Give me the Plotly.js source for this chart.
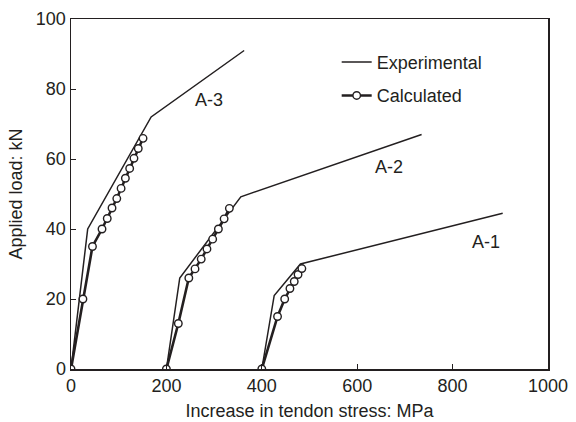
<!DOCTYPE html>
<html>
<head>
<meta charset="utf-8">
<script src="https://cdn.plot.ly/plotly-3.0.1.min.js"></script>
<style>html,body{margin:0;padding:0;background:#fff}#chart{width:576px;height:422px}</style>
</head>
<body>
<div id="chart"></div>
<script>
// A-1
const a1ExpX = [400, 426, 481, 905];
const a1ExpY = [0, 21, 30, 44.5];
const a1CalX = [400, 433, 448, 459, 468, 476, 484];
const a1CalY = [0, 15, 20, 23, 25, 27, 28.7];
// A-2
const a2ExpX = [200, 228, 356, 735];
const a2ExpY = [0, 26, 49.2, 67];
const a2CalX = [200, 225, 247, 260, 273, 285, 297, 309, 321, 332];
const a2CalY = [0, 13, 26, 28.6, 31.4, 34.3, 37.1, 40, 42.9, 45.9];
// A-3
const a3ExpX = [0, 35, 168, 363];
const a3ExpY = [0, 40, 72, 91];
const a3CalX = [0, 25, 45, 65, 76, 86, 96, 105, 114, 123, 132, 141, 151];
const a3CalY = [0, 20, 35, 40, 43, 46, 48.7, 51.6, 54.5, 57.3, 60.2, 63, 65.9];
// labels
const specimenNames = ['A-1', 'A-2', 'A-3'];
const labelX = [869, 666, 289];
const labelY = [36.2, 57.6, 77];
const xTicks = [0, 200, 400, 600, 800, 1000];
const yTicks = [0, 20, 40, 60, 80, 100];

const ink = '#231f20';
const fontFam = '"Liberation Sans", Arial, Helvetica, sans-serif';
const fs = 18;

function expTrace(x, y, show) {
  return {x: x, y: y, type: 'scatter', mode: 'lines', name: 'Experimental',
    legendgroup: 'exp', showlegend: show,
    line: {color: ink, width: 1.5}};
}
function calTrace(x, y, show) {
  return {x: x, y: y, type: 'scatter', mode: 'lines+markers', name: 'Calculated',
    legendgroup: 'cal', showlegend: show,
    line: {color: ink, width: 2.6},
    marker: {symbol: 'circle', size: 7.5, color: '#ffffff', line: {color: ink, width: 1.4}}};
}

const data = [
  expTrace(a3ExpX, a3ExpY, true),
  expTrace(a2ExpX, a2ExpY, false),
  expTrace(a1ExpX, a1ExpY, false),
  calTrace(a3CalX, a3CalY, true),
  calTrace(a2CalX, a2CalY, false),
  calTrace(a1CalX, a1CalY, false)
];

const annotations = specimenNames.map((t, i) => ({
  x: labelX[i], y: labelY[i], xref: 'x', yref: 'y', text: t, showarrow: false,
  font: {family: fontFam, size: fs, color: ink}
}));

const layout = {
  width: 576, height: 422,
  margin: {l: 71, r: 28, t: 19, b: 53},
  paper_bgcolor: '#fff', plot_bgcolor: '#fff',
  font: {family: fontFam, size: fs, color: ink},
  showlegend: true,
  legend: {x: 0.557, y: 0.929, xanchor: 'left', yanchor: 'top',
    bgcolor: 'rgba(0,0,0,0)', borderwidth: 0, traceorder: 'grouped', tracegroupgap: 7,
    font: {family: fontFam, size: fs, color: ink}},
  xaxis: {range: [0, 1000], tickvals: xTicks, ticktext: xTicks.map(String),
    ticks: 'inside', ticklen: 5, tickwidth: 1, tickcolor: ink,
    showline: true, linecolor: ink, linewidth: 1.5, mirror: true,
    showgrid: false, zeroline: false,
    tickfont: {family: fontFam, size: fs, color: ink},
    title: {text: 'Increase in tendon stress: MPa', font: {family: fontFam, size: fs, color: ink}, standoff: 9}},
  yaxis: {range: [0, 100], tickvals: yTicks, ticktext: yTicks.map(String),
    ticks: 'inside', ticklen: 5, tickwidth: 1, tickcolor: ink,
    showline: true, linecolor: ink, linewidth: 1.5, mirror: true,
    showgrid: false, zeroline: false,
    tickfont: {family: fontFam, size: fs, color: ink},
    title: {text: 'Applied load: kN', font: {family: fontFam, size: fs, color: ink}, standoff: 8}},
  annotations: annotations
};

Plotly.newPlot('chart', data, layout, {displayModeBar: false, staticPlot: true});
</script>
</body>
</html>
